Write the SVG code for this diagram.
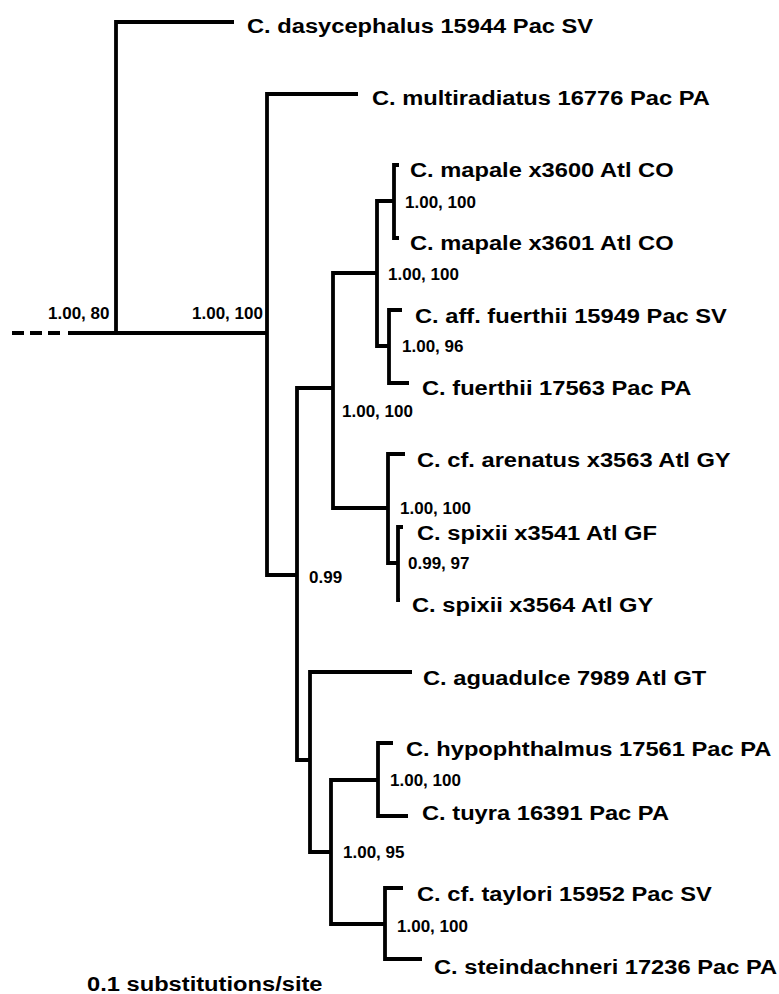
<svg xmlns="http://www.w3.org/2000/svg" width="779" height="994" viewBox="0 0 779 994">
<style>
  .br { fill: none; stroke: #000; stroke-width: 3.8; stroke-linejoin: miter; stroke-linecap: butt; }
  .dash { stroke-dasharray: 12 6; }
  .sp { font-family: "Liberation Sans", Arial, sans-serif; font-weight: bold; font-size: 20.6px; fill: #000; }
  .bs { font-family: "Liberation Sans", Arial, sans-serif; font-weight: bold; font-size: 17px; fill: #000; }
</style>
<rect width="779" height="994" fill="#fff"/>
<g id="connectors">
  <path class="br dash" d="M12,333 H62"/>
  <path class="br" d="M68,333 H267"/>
  <path class="br" d="M234,22 H116 V333"/>
  <path class="br" d="M358,94 H267 V575 H297"/>
  <path class="br" d="M333,388 H297 V760 H310"/>
  <path class="br" d="M377,273 H333 V508 H388"/>
  <path class="br" d="M394,201 H377 V346 H389"/>
  <path class="br" d="M399,165 H394 V238 H399"/>
  <path class="br" d="M402,310 H389 V383 H409"/>
  <path class="br" d="M405,454 H388 V563 H398"/>
  <path class="br" d="M403,527 H398 V600 H400"/>
  <path class="br" d="M412,672 H310 V852 H331"/>
  <path class="br" d="M378,780 H331 V924 H385"/>
  <path class="br" d="M393,743 H378 V816 H408"/>
  <path class="br" d="M403,888 H385 V959 H422"/>
</g>
<g id="tips">
  <g id="t-dasycephalus"><text class="sp" transform="translate(247,33) scale(1.15,1)">C. dasycephalus 15944 Pac SV</text></g>
  <g id="t-multiradiatus"><text class="sp" transform="translate(372,105) scale(1.15,1)">C. multiradiatus 16776 Pac PA</text></g>
  <g id="t-mapale3600"><text class="sp" transform="translate(410,177) scale(1.15,1)">C. mapale x3600 Atl CO</text></g>
  <g id="t-mapale3601"><text class="sp" transform="translate(410,250) scale(1.15,1)">C. mapale x3601 Atl CO</text></g>
  <g id="t-afffuerthii"><text class="sp" transform="translate(415,323) scale(1.15,1)">C. aff. fuerthii 15949 Pac SV</text></g>
  <g id="t-fuerthii"><text class="sp" transform="translate(422,395) scale(1.15,1)">C. fuerthii 17563 Pac PA</text></g>
  <g id="t-arenatus"><text class="sp" transform="translate(417,467) scale(1.15,1)">C. cf. arenatus x3563 Atl GY</text></g>
  <g id="t-spixii3541"><text class="sp" transform="translate(417,540) scale(1.15,1)">C. spixii x3541 Atl GF</text></g>
  <g id="t-spixii3564"><text class="sp" transform="translate(412,612) scale(1.15,1)">C. spixii x3564 Atl GY</text></g>
  <g id="t-aguadulce"><text class="sp" transform="translate(423,685) scale(1.15,1)">C. aguadulce 7989 Atl GT</text></g>
  <g id="t-hypophthalmus"><text class="sp" transform="translate(406,756) scale(1.15,1)">C. hypophthalmus 17561 Pac PA</text></g>
  <g id="t-tuyra"><text class="sp" transform="translate(422,820) scale(1.15,1)">C. tuyra 16391 Pac PA</text></g>
  <g id="t-taylori"><text class="sp" transform="translate(417,901) scale(1.15,1)">C. cf. taylori 15952 Pac SV</text></g>
  <g id="t-steindachneri"><text class="sp" transform="translate(434,974) scale(1.15,1)">C. steindachneri 17236 Pac PA</text></g>
</g>
<g id="supports">
  <g id="n-root"><text class="bs" x="48" y="319">1.00, 80</text></g>
  <g id="n-A"><text class="bs" x="192" y="319">1.00, 100</text></g>
  <g id="n-E"><text class="bs" x="405" y="208">1.00, 100</text></g>
  <g id="n-D"><text class="bs" x="388" y="280">1.00, 100</text></g>
  <g id="n-F"><text class="bs" x="402" y="352">1.00, 96</text></g>
  <g id="n-C"><text class="bs" x="342" y="417">1.00, 100</text></g>
  <g id="n-G"><text class="bs" x="400" y="514">1.00, 100</text></g>
  <g id="n-S"><text class="bs" x="408" y="569">0.99, 97</text></g>
  <g id="n-B"><text class="bs" x="309" y="583">0.99</text></g>
  <g id="n-J"><text class="bs" x="390" y="786">1.00, 100</text></g>
  <g id="n-I"><text class="bs" x="343" y="858">1.00, 95</text></g>
  <g id="n-K"><text class="bs" x="397" y="932">1.00, 100</text></g>
</g>
<g id="scale"><text class="sp" transform="translate(87,991) scale(1.15,1)">0.1 substitutions/site</text></g>
</svg>
